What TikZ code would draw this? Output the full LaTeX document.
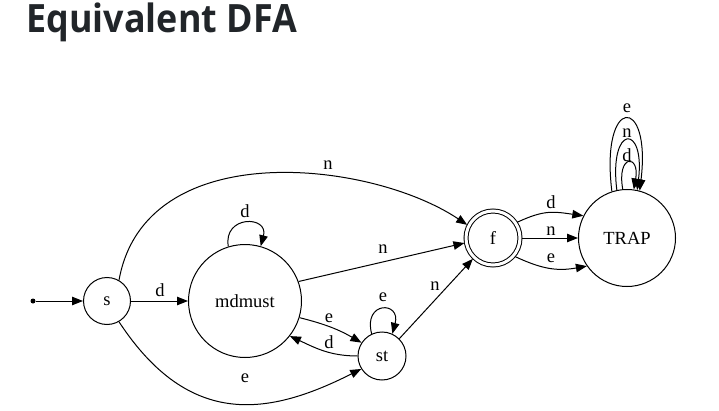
\documentclass[tikz,border=0pt]{standalone}
\usepackage{fontspec}
\setmainfont{Liberation Serif}
\newfontfamily\titlefont{Open Sans}
\usetikzlibrary{arrows.meta}
\definecolor{titlegray}{HTML}{212529}
\begin{document}
\begin{tikzpicture}[x=1pt,y=1pt,
	state/.style={draw,circle,line width=1pt,inner sep=0pt,font=\fontsize{18.5}{20}\selectfont},
	accept/.style={state,double,double distance=3pt,outer sep=2pt},
	edge/.style={line width=1pt,-{Triangle[length=11pt,width=8.5pt]}},
	lbl/.style={inner sep=0pt,font=\fontsize{18.5}{20}\selectfont}]
	\useasboundingbox (0,0) rectangle (719,410);
	\node[anchor=base west,text=titlegray,font=\titlefont\bfseries\fontsize{39}{44}\selectfont] (title) at (23,377) {\scalebox{0.92}[1]{Equivalent DFA}};
	% states
	\node[circle,fill=black,inner sep=0pt,minimum size=5pt] (start) at (33,109) {};
	\node[state,minimum size=47pt] (s) at (107,109) {s};
	\node[state,minimum size=113pt] (m) at (245,109) {mdmust};
	\node[state,minimum size=48pt] (st) at (382,54) {st};
	\node[accept,minimum size=54pt] (f) at (493,172) {f};
	\node[state,minimum size=97pt] (T) at (627,172) {TRAP};
	% transitions
	\draw[edge] (start) -- (s);
	\draw[edge] (s) -- (m);
	\draw[edge] (s.60) .. controls (145,275) and (370,250) .. (f.153);
	\draw[edge] (s.-60) .. controls (190,-20) and (270,-5) .. (st.212);
	\draw[edge] (m.107) .. controls +(100:32) and +(75:32) .. (m.74);
	\draw[edge] (m.20) -- (f.190);
	\draw[edge] (m.-17) to[bend left=8] (st.147);
	\draw[edge] (st.180) to[out=180,in=-25] (m.-38);
	\draw[edge] (st.115) .. controls +(105:34) and +(75:34) .. (st.65);
	\draw[edge] (st.45) -- (f.226);
	\draw[edge] (f.33) .. controls +(25:30) and +(172:30) .. (T.153);
	\draw[edge] (f) -- (T);
	\draw[edge] (f.-40) .. controls +(-25:30) and +(190:30) .. (T.-145);
	\draw[edge] (T.95) .. controls +(100:36) and +(80:36) .. (T.82);
	\draw[edge] (T.102) .. controls +(97:67) and +(83:67) .. (T.78);
	\draw[edge] (T.108) .. controls +(97:97) and +(83:97) .. (T.75);
	% labels
	\node[lbl] (l1) at (160,120) {d};
	\node[lbl] (l2) at (328,245) {n};
	\node[lbl] (l3) at (245,199) {d};
	\node[lbl] (l4) at (383,161) {n};
	\node[lbl] (l5) at (329,92) {e};
	\node[lbl] (l6) at (329,68) {d};
	\node[lbl] (l7) at (383,113) {e};
	\node[lbl] (l8) at (435,124) {n};
	\node[lbl] (l9) at (245,32) {e};
	\node[lbl] (l10) at (551,208) {d};
	\node[lbl] (l11) at (551,179) {n};
	\node[lbl] (l12) at (551,152) {e};
	\node[lbl] (l13) at (627,255) {d};
	\node[lbl] (l14) at (627,277) {n};
	\node[lbl] (l15) at (627,302) {e};
\end{tikzpicture}
\end{document}
